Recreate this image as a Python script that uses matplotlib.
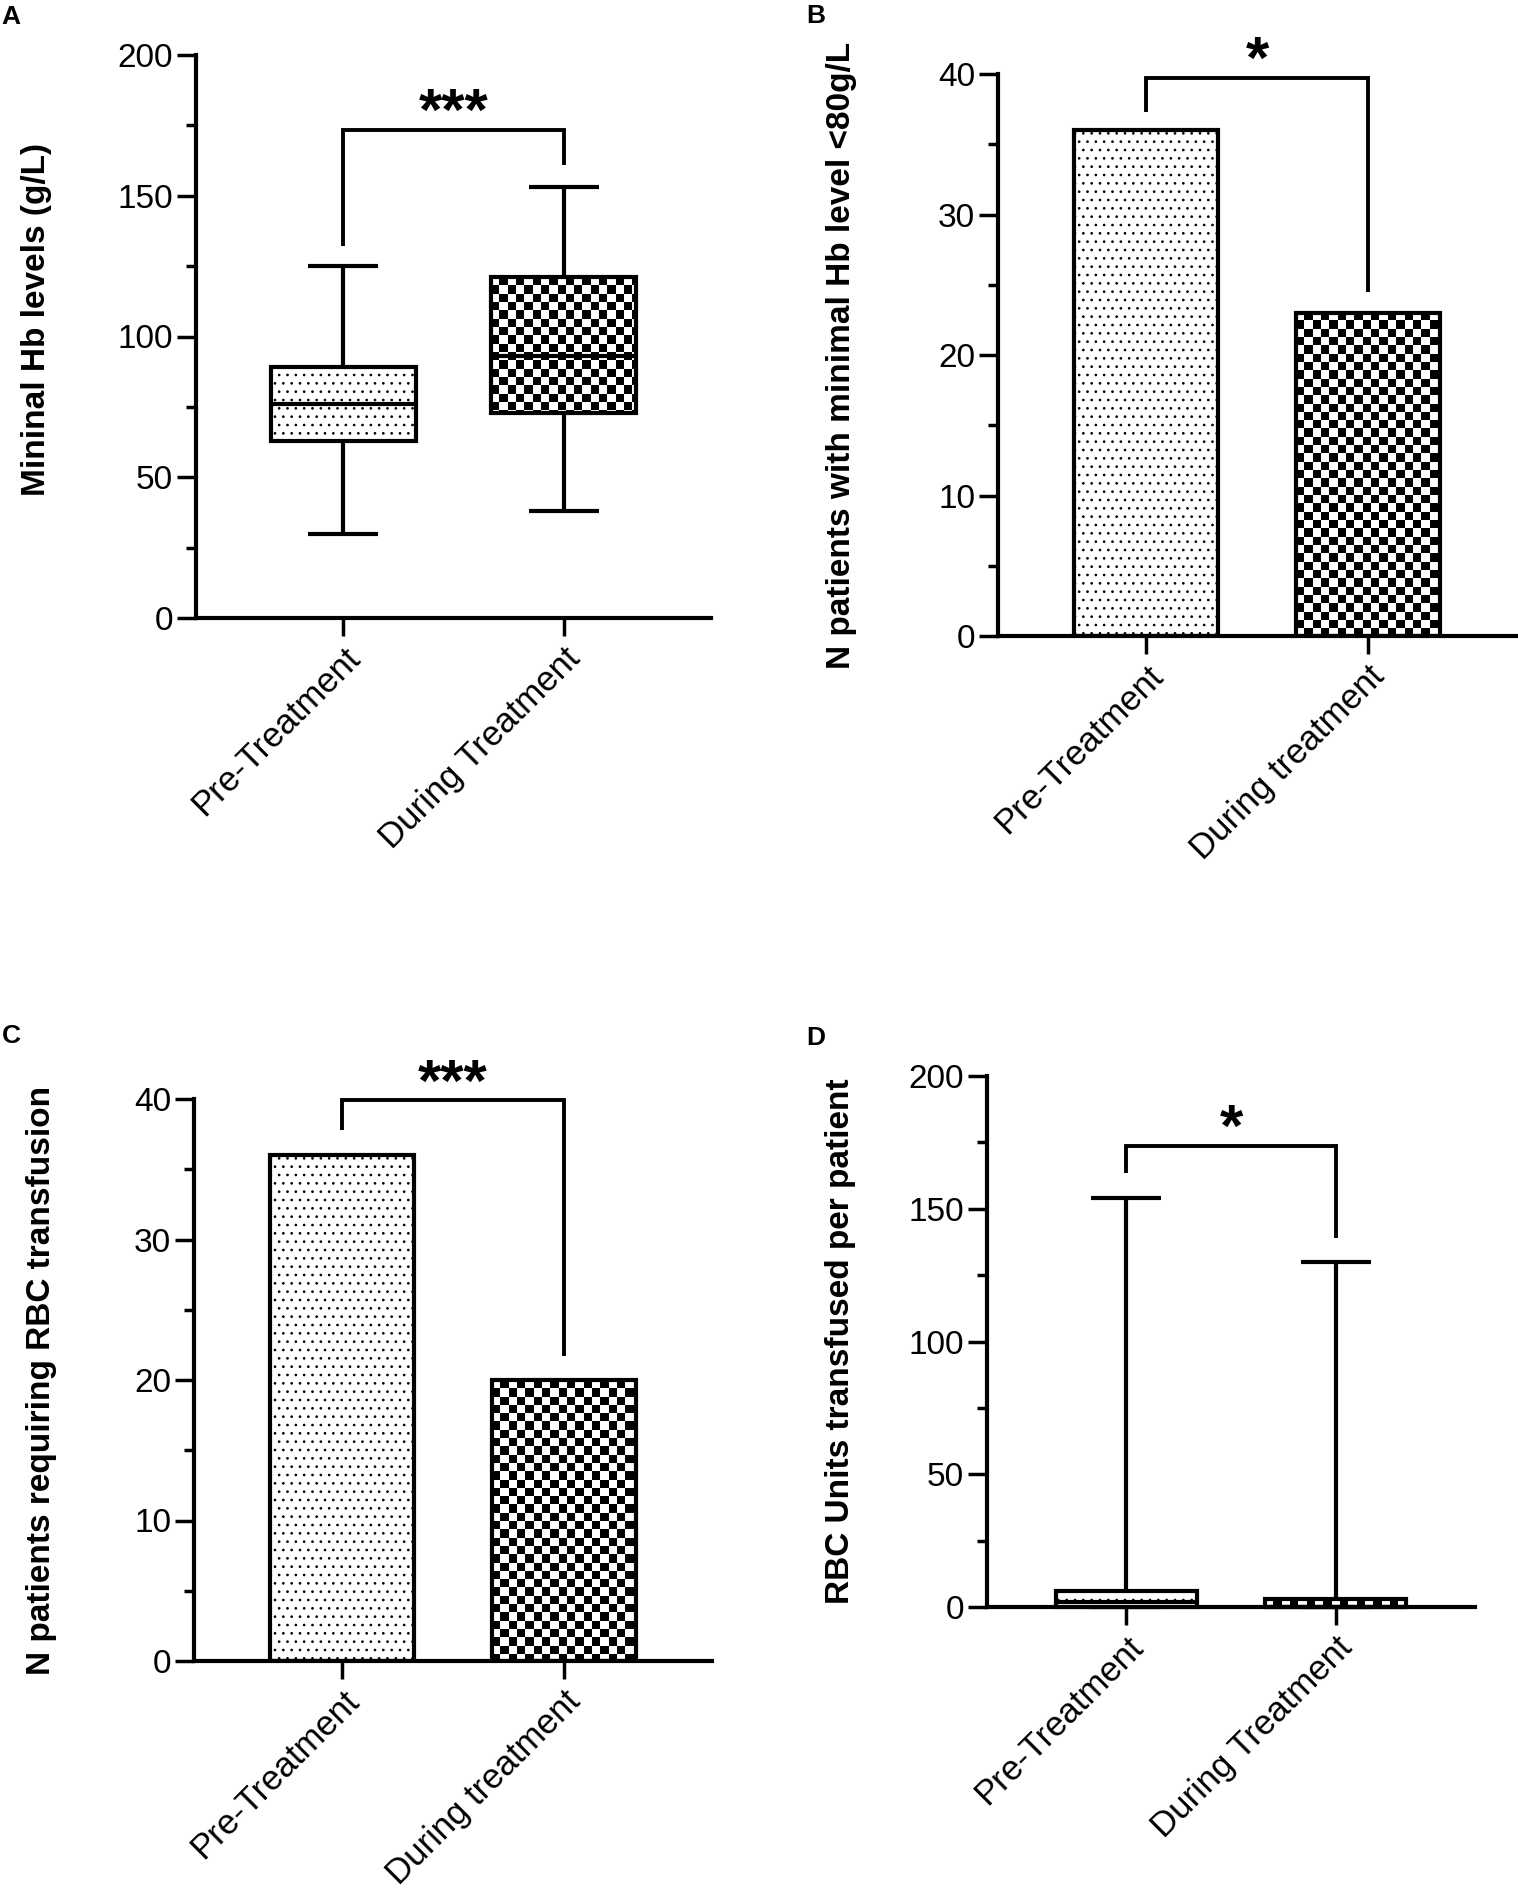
import numpy as np
import matplotlib
matplotlib.use("Agg")
import matplotlib.pyplot as plt
from matplotlib.ticker import MultipleLocator

plt.rcParams['font.family'] = ['Liberation Sans', 'DejaVu Sans']
plt.rcParams['hatch.linewidth'] = 0.7

# ---------------- data ----------------
categories_A = ["Pre-Treatment", "During Treatment"]
A_whislo = [30, 38]
A_q1 = [63, 73]
A_med = [76, 93]
A_q3 = [89, 121]
A_whishi = [125, 153]

categories_B = ["Pre-Treatment", "During treatment"]
B_values = [36, 23]

categories_C = ["Pre-Treatment", "During treatment"]
C_values = [36, 20]

categories_D = ["Pre-Treatment", "During Treatment"]
D_whislo = [0, 0]
D_q1 = [0, 0]
D_med = [2, 0]
D_q3 = [6, 3]
D_whishi = [154, 130]

# significance brackets: (bar height, left leg end, right leg end, label)
sig_A = (173.5, 132, 161, "***")
sig_B = (39.7, 37.3, 24.5, "*")
sig_C = (39.9, 37.8, 21.7, "***")
sig_D = (173.8, 163.6, 138.9, "*")

ylabels = ["Mininal Hb levels (g/L)",
           "N patients with minimal Hb level <80g/L",
           "N patients requiring RBC transfusion",
           "RBC Units transfused per patient"]

# ---------------- figure ----------------
W, H = 1518, 1891
fig = plt.figure(figsize=(W / 100, H / 100), dpi=100)


def axes_px(x0, x1, ytop, ybot):
    return fig.add_axes([x0 / W, 1 - ybot / H, (x1 - x0) / W, (ybot - ytop) / H])


axA = axes_px(196, 711, 55, 618)
axB = axes_px(998, 1516, 74, 636)
axC = axes_px(194, 712, 1099, 1661)
axD = axes_px(987, 1475, 1076, 1607)

LW = 3.0
CELL = 8.3  # checker cell size in pixels


def style(ax, ymax, major, minor, cats):
    ax.set_xlim(-0.667, 1.667)
    ax.set_ylim(0, ymax)
    for s in ("top", "right"):
        ax.spines[s].set_visible(False)
    for s in ("left", "bottom"):
        ax.spines[s].set_linewidth(LW)
        ax.spines[s].set_capstyle("projecting")
    ax.yaxis.set_major_locator(MultipleLocator(major))
    ax.yaxis.set_minor_locator(MultipleLocator(minor))
    ax.tick_params(axis="y", which="major", length=13.5, width=2.5, labelsize=24, pad=3)
    ax.tick_params(axis="y", which="minor", length=7, width=2.5)
    ax.tick_params(axis="x", which="major", length=13, width=2.5, labelsize=25, pad=4)
    ax.set_xticks(range(len(cats)))
    ax.set_xticklabels(cats, rotation=45, ha="right", va="top", rotation_mode="anchor")


def checker(ax, patch):
    fig.canvas.draw()
    bb = patch.get_path().get_extents(patch.get_transform())
    nx = int(np.ceil(bb.width / CELL)) + 1
    ny = int(np.ceil(bb.height / CELL)) + 1
    x0, y1 = bb.x0, bb.y1
    x1 = x0 + nx * CELL
    y0 = y1 - ny * CELL
    inv = ax.transData.inverted()
    (dx0, dy0), (dx1, dy1) = inv.transform([(x0, y0), (x1, y1)])
    ii, jj = np.indices((ny, nx))
    img = ((ii + jj) % 2).astype(float)
    im = ax.imshow(img, cmap="gray_r", vmin=0, vmax=1, extent=(dx0, dx1, dy0, dy1),
                   origin="upper", interpolation="nearest", aspect="auto", zorder=2)
    im.set_clip_path(patch)
    ax.set_xlim(-0.667, 1.667)


def bracket(ax, x0, x1, sig):
    yb, yl, yr, lab = sig
    ax.plot([x0, x0, x1, x1], [yl, yb, yb, yr], color="black", lw=2.8,
            solid_joinstyle="miter", solid_capstyle="butt", clip_on=False, zorder=5)
    ax.text((x0 + x1) / 2, yb, lab, ha="center", va="baseline", fontsize=43,
            fontweight="bold", zorder=6)


def boxes(ax, lo, q1, med, q3, hi, width, capw):
    stats = [dict(whislo=lo[i], q1=q1[i], med=med[i], q3=q3[i], whishi=hi[i], fliers=[])
             for i in range(len(lo))]
    bp = ax.bxp(stats, positions=range(len(stats)), widths=width, capwidths=capw,
                patch_artist=True, showfliers=False, manage_ticks=False,
                boxprops=dict(linewidth=LW, edgecolor="black", facecolor="none", zorder=3),
                whiskerprops=dict(linewidth=LW, color="black", solid_capstyle="butt"),
                capprops=dict(linewidth=LW, color="black", solid_capstyle="butt"),
                medianprops=dict(linewidth=LW, color="black", solid_capstyle="butt", zorder=4))
    for art in bp["boxes"] + bp["whiskers"] + bp["caps"] + bp["medians"]:
        art.set_clip_on(False)
    bp["boxes"][0].set_hatch("..")
    bp["boxes"][0].set_facecolor("white")
    return bp


# ---- A ----
style(axA, 200, 50, 25, categories_A)
bpA = boxes(axA, A_whislo, A_q1, A_med, A_q3, A_whishi, 0.656, 0.317)
checker(axA, bpA["boxes"][1])
bracket(axA, 0, 1, sig_A)

# ---- B ----
style(axB, 40, 10, 5, categories_B)
barsB = axB.bar(range(2), B_values, width=0.645, facecolor="none", edgecolor="black",
                linewidth=LW, zorder=3)
barsB[0].set_hatch("..")
barsB[0].set_facecolor("white")
barsB[0].set_zorder(1)
checker(axB, barsB[1])
bracket(axB, 0, 1, sig_B)

# ---- C ----
style(axC, 40, 10, 5, categories_C)
barsC = axC.bar(range(2), C_values, width=0.65, facecolor="none", edgecolor="black",
                linewidth=LW, zorder=3)
barsC[0].set_hatch("..")
barsC[0].set_facecolor("white")
barsC[0].set_zorder(1)
checker(axC, barsC[1])
bracket(axC, 0, 1, sig_C)

# ---- D ----
style(axD, 200, 50, 25, categories_D)
bpD = boxes(axD, D_whislo, D_q1, D_med, D_q3, D_whishi, 0.67, 0.335)
checker(axD, bpD["boxes"][1])
bracket(axD, 0, 1, sig_D)

# y labels
label_pos = [(-0.28, 0.53), (-0.273, 0.5), (-0.264, 0.5), (-0.268, 0.5)]
for ax, lab, (lx, ly) in zip([axA, axB, axC, axD], ylabels, label_pos):
    ax.set_ylabel(lab, fontsize=24, fontweight="bold")
    ax.yaxis.set_label_coords(lx, ly)

# panel letters
for letter, (px, py) in zip("ABCD", [(1, 5), (806, 4), (2, 1024), (806, 1026)]):
    fig.text(px / W, 1 - py / H, letter, ha="left", va="top", fontsize=19, fontweight="bold")

fig.savefig("out.png", dpi=100, facecolor="white")
